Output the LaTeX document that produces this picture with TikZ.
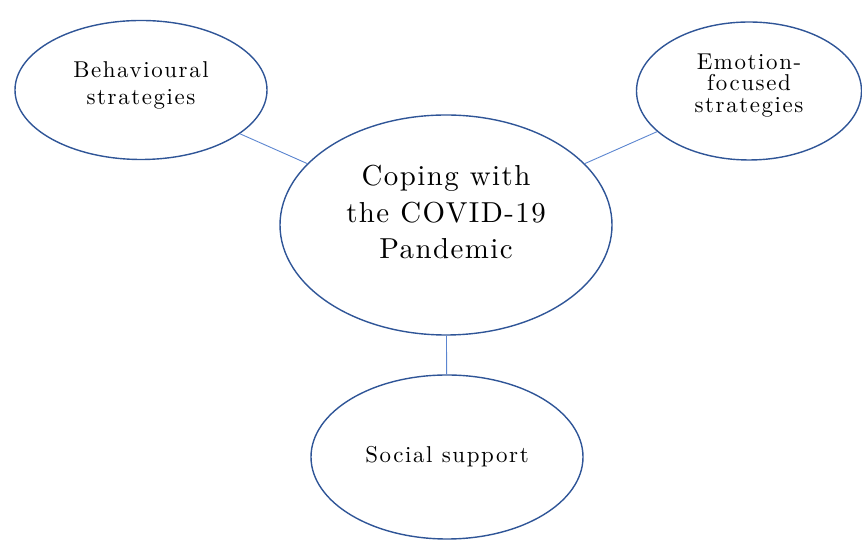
\documentclass[tikz,border=0pt]{standalone}
\usepackage{fontspec}
\newfontfamily\corefont{lmroman10-regular.otf}[LetterSpace=5]
\newfontfamily\sidefont{lmroman10-regular.otf}[LetterSpace=7]
\usepackage{tikz}
\usetikzlibrary{shapes,positioning}
\definecolor{ringblue}{HTML}{2F5597}
\definecolor{linkblue}{HTML}{5B85D0}

\begin{document}
\begin{tikzpicture}[x=1bp,y=1bp]
	\tikzset{topic style/.style={ellipse, draw=ringblue, line width=1.4bp, inner sep=0pt, align=center},
	         side text/.style={font=\sidefont\fontsize{23}{27}\selectfont},
	         link style/.style={draw=linkblue, line width=0.9bp}}
	\useasboundingbox (0,0) rectangle (862,541);
	\node[topic style, minimum width=332bp, minimum height=220bp, text depth=26bp,
	      font=\corefont\fontsize{29}{36.5}\selectfont] (core) at (446,316) {Coping with\\the COVID-19\\Pandemic};
	\node[topic style, side text, minimum width=252bp, minimum height=139bp, text depth=13bp] (behav) at (141,451) {Behavioural\\strategies};
	\node[topic style, side text, minimum width=225bp, minimum height=138bp, text depth=16bp,
	      font=\sidefont\fontsize{23}{21.5}\selectfont] (emot) at (749,450) {Emotion-\\focused\\strategies};
	\node[topic style, side text, minimum width=272bp, minimum height=164bp] (social) at (447,84) {Social support};
	\draw[link style] (core) -- (behav);
	\draw[link style] (core) -- (emot);
	\draw[link style] (core) -- (social);
\end{tikzpicture}
\end{document}
